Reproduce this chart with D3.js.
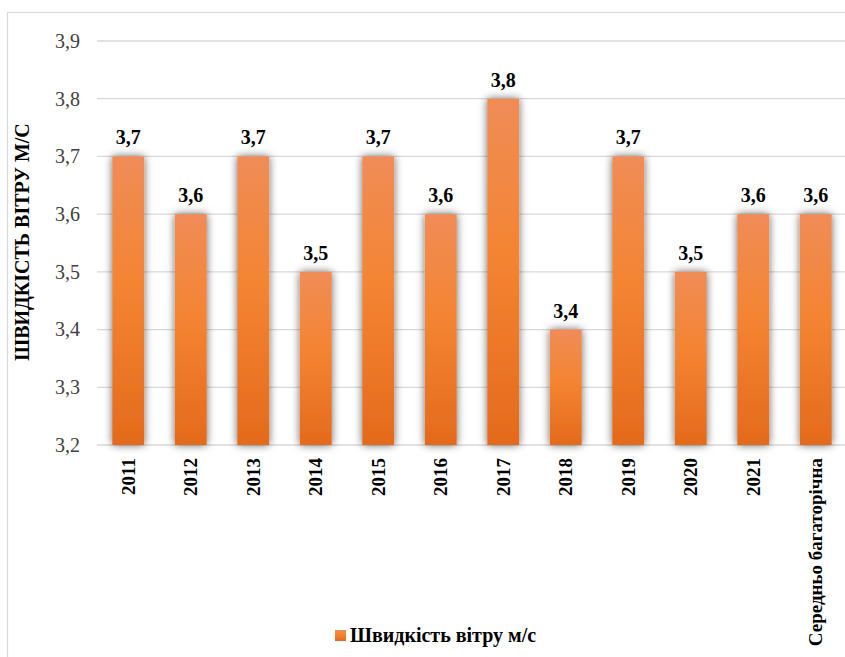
<!DOCTYPE html>
<html>
<head>
<meta charset="utf-8">
<script src="https://cdn.jsdelivr.net/npm/d3@7"></script>
<style>
  body { margin: 0; background: #fff; }
  svg text { font-family: "Liberation Serif", "DejaVu Serif", serif !important; }
</style>
</head>
<body>
<div id="chart"></div>
<script>
// chart data
var categories = ["2011", "2012", "2013", "2014", "2015", "2016", "2017", "2018", "2019", "2020", "2021", "Середньо багаторічна"];
var values = [3.7, 3.6, 3.7, 3.5, 3.7, 3.6, 3.8, 3.4, 3.7, 3.5, 3.6, 3.6];
var yTicks = [3.2, 3.3, 3.4, 3.5, 3.6, 3.7, 3.8, 3.9];
var seriesName = "Швидкість вітру м/с";
var yTitle = "ШВИДКІСТЬ ВІТРУ М/С";

var serif = "Liberation Serif, DejaVu Serif, serif";

var svgWidth = 845;
var svgHeight = 657;

var margin = { top: 41, right: -2, bottom: 212, left: 97 };
var chartWidth = svgWidth - margin.left - margin.right;
var chartHeight = svgHeight - margin.top - margin.bottom;

var svg = d3.select("#chart")
  .append("svg")
  .attr("width", svgWidth)
  .attr("height", svgHeight)
  .attr("font-family", serif);

// gradient + shadow for bars
var defs = svg.append("defs");
var grad = defs.append("linearGradient")
  .attr("id", "barGrad")
  .attr("x1", 0).attr("y1", 0).attr("x2", 0).attr("y2", 1);
grad.append("stop").attr("offset", "0%").attr("stop-color", "#F08C57");
grad.append("stop").attr("offset", "45%").attr("stop-color", "#F48432");
grad.append("stop").attr("offset", "100%").attr("stop-color", "#E46A1C");

var shadow = defs.append("filter")
  .attr("id", "shadow")
  .attr("x", "-80%").attr("y", "-20%").attr("width", "260%").attr("height", "140%");
shadow.append("feDropShadow")
  .attr("dx", 0).attr("dy", 0)
  .attr("stdDeviation", 4.5)
  .attr("flood-color", "#000")
  .attr("flood-opacity", 0.6);

// outer frame
svg.append("rect")
  .attr("x", 7.5).attr("y", 12.5)
  .attr("width", svgWidth).attr("height", svgHeight)
  .attr("fill", "none")
  .attr("stroke", "#d9d9d9")
  .attr("stroke-width", 1.2);

var chartGroup = svg.append("g")
  .attr("transform", `translate(${margin.left}, ${margin.top})`);

var xScale = d3.scaleBand()
  .domain(categories)
  .range([0, chartWidth])
  .paddingInner(0.49)
  .paddingOuter(0.245);

var yScale = d3.scaleLinear()
  .domain([3.2, 3.9])
  .range([chartHeight, 0]);

var fmt = function(v) { return d3.format(".1f")(v).replace(".", ","); };

// gridlines
chartGroup.append("g")
  .selectAll("line")
  .data(yTicks)
  .enter().append("line")
    .attr("x1", 0)
    .attr("x2", chartWidth)
    .attr("y1", d => yScale(d))
    .attr("y2", d => yScale(d))
    .attr("stroke", "#d9d9d9")
    .attr("stroke-width", 1.3);

// y axis labels
var leftAxis = d3.axisLeft(yScale)
  .tickValues(yTicks)
  .tickFormat(fmt)
  .tickSize(0)
  .tickPadding(17);

var yAxisG = chartGroup.append("g").call(leftAxis)
  .attr("font-family", serif);
yAxisG.select(".domain").remove();
yAxisG.selectAll("text")
  .attr("font-size", 20)
  .attr("fill", "#404040")
  .attr("font-family", serif);

// bars
chartGroup.selectAll(".bar")
  .data(values)
  .enter().append("rect")
    .attr("class", "bar")
    .attr("x", (d, i) => xScale(categories[i]))
    .attr("y", d => yScale(d))
    .attr("width", xScale.bandwidth())
    .attr("height", d => chartHeight - yScale(d))
    .attr("fill", "url(#barGrad)")
    .attr("filter", "url(#shadow)");

// value labels
chartGroup.selectAll(".val")
  .data(values)
  .enter().append("text")
    .attr("class", "val")
    .attr("x", (d, i) => xScale(categories[i]) + xScale.bandwidth() / 2)
    .attr("y", d => yScale(d) - 12)
    .attr("text-anchor", "middle")
    .attr("font-size", 20)
    .attr("font-weight", "bold")
    .attr("font-family", serif)
    .attr("fill", "#000")
    .text(fmt);

// x labels
var bottomAxis = d3.axisBottom(xScale).tickSize(0).tickPadding(0);
var xAxisG = chartGroup.append("g")
  .attr("transform", `translate(0, ${chartHeight})`)
  .call(bottomAxis)
  .attr("font-family", serif);
xAxisG.select(".domain").remove();
xAxisG.selectAll("text")
  .attr("transform", "rotate(-90)")
  .attr("x", -13)
  .attr("y", 0)
  .attr("dy", "0.35em")
  .attr("text-anchor", "end")
  .attr("font-size", 19)
  .attr("font-weight", "bold")
  .attr("font-family", serif)
  .attr("fill", "#000");

// y title
svg.append("text")
  .attr("transform", `translate(29, 242) rotate(-90)`)
  .attr("text-anchor", "middle")
  .attr("font-size", 20)
  .attr("font-weight", "bold")
  .attr("font-family", serif)
  .attr("fill", "#000")
  .text(yTitle);

// legend
svg.append("rect")
  .attr("x", 335).attr("y", 630)
  .attr("width", 11).attr("height", 11)
  .attr("fill", "url(#barGrad)");
svg.append("text")
  .attr("x", 350).attr("y", 642)
  .attr("font-size", 20)
  .attr("font-weight", "bold")
  .attr("font-family", serif)
  .attr("fill", "#000")
  .text(seriesName);
</script>
</body>
</html>
